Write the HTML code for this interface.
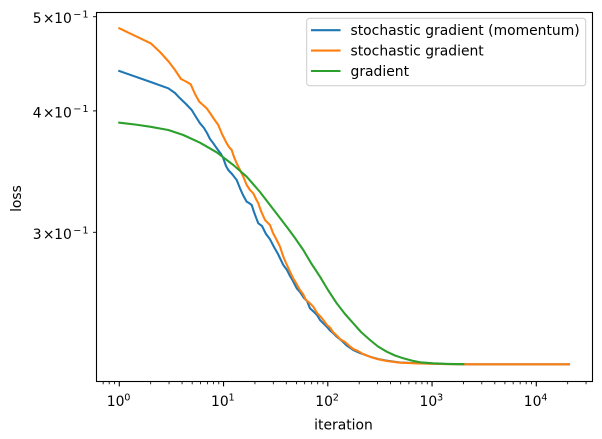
<!DOCTYPE html>
<html>
<head>
<meta charset="utf-8">
<style>
  html, body { margin: 0; padding: 0; background: #ffffff; }
  svg { display: block; }
  text { font-family: "DejaVu Sans", "Liberation Sans", sans-serif; fill: #000; }
</style>
</head>
<body>
<svg width="602" height="439" viewBox="0 0 602 439" xmlns="http://www.w3.org/2000/svg">
  <rect x="0" y="0" width="602" height="439" fill="#ffffff"/>

  <!-- series -->
  <g fill="none" stroke-width="2.08" stroke-linejoin="round" stroke-linecap="square">
    <!-- blue: stochastic gradient (momentum) -->
    <polyline stroke="#1f77b4" points="
      119.3,71 150.7,82 168.3,88.3 175,93 180,98.3 186,104 191.7,110 196,117 200,123.3 204,128
      207,133 210,139 213.3,143.3 218,150 221,154 223.3,158.3 226,166 228.3,170 232,174 236.7,180
      240,188.3 243,195 246.7,201.7 249,203 251.7,205 254,212 256.7,219.3 258.3,223.3 262,226 266,234
      270,239.3 274,247 278,254 283.3,265 287,270 290,276 293,281 296.7,288.3 300,292 304,298
      307,301 310,308.3 314,312 317,315 320,320 323.3,323.3 327,327 330,330.5 333,333 336.7,336.7
      341,340 346.7,345.5 353.3,350 360,353 370,356.7 378,359 386.7,360.7 400,362.5 420,363.3
      445,364 470,364.3 569,364.3"/>
    <!-- orange: stochastic gradient -->
    <polyline stroke="#ff7f0e" points="
      119.3,28.3 150.7,43.3 160,52 169,62 175,70 181,79 186,81.5 190.7,84.3 195,94 199.3,101.7
      203,105 206.7,108.3 210,113 214,119 218.3,125 222,134 226.7,143.3 229,147 231.7,150 234,157
      236.7,163.3 240,170 243,176 246.7,185 250,190 253.3,193.3 256,199 258.3,203.3 261,211 265,220
      268,223 270,225 273,233 276.7,240 280,246.7 283.3,256.7 286,263 290,271.7 293,278 296,283
      300,290 303,294 306,300 310,303.3 313.3,306.7 317,313 320,316 323.3,320 327,325 330,327.5
      333,332 336.7,335.5 340,339 345,342 350,346.5 353.3,349 358,351 363,354 370,356.7 377,359
      386.7,361 400,362.7 420,363.5 445,364.1 470,364.3 569,364.3"/>
    <!-- green: gradient -->
    <polyline stroke="#2ca02c" points="
      119.3,122.7 135,124.5 150,126.7 168.3,130 183.3,135 200,142.7 216.7,152.3 233.3,165 246.7,176.7
      260,192 270,205 280,218 286.7,226.7 295,238 303.3,250 311,263 320,276.7 328,290 336.7,303.3
      345,314 353.3,323.3 361,332 370,340 378,346.5 386.7,351.7 395,355.5 403.3,358.3 412,360.6
      420,362.3 433,363.3 448,363.9 463.3,364.2"/>
  </g>

  <!-- axes frame -->
  <rect x="96.5" y="12.5" width="496" height="369" fill="none" stroke="#000" stroke-width="1.1"/>

  <!-- x major ticks -->
  <g stroke="#000" stroke-width="1.1">
    <line x1="119.3" y1="381.5" x2="119.3" y2="386.4"/>
    <line x1="223.55" y1="381.5" x2="223.55" y2="386.4"/>
    <line x1="327.8" y1="381.5" x2="327.8" y2="386.4"/>
    <line x1="432.05" y1="381.5" x2="432.05" y2="386.4"/>
    <line x1="536.3" y1="381.5" x2="536.3" y2="386.4"/>
  </g>
  <!-- x minor ticks -->
  <g stroke="#000" stroke-width="0.83">
    <line x1="103.15" y1="381.5" x2="103.15" y2="384.3"/>
    <line x1="109.2" y1="381.5" x2="109.2" y2="384.3"/>
    <line x1="114.5" y1="381.5" x2="114.5" y2="384.3"/>

    <line x1="150.68" y1="381.5" x2="150.68" y2="384.3"/>
    <line x1="169.04" y1="381.5" x2="169.04" y2="384.3"/>
    <line x1="182.06" y1="381.5" x2="182.06" y2="384.3"/>
    <line x1="192.17" y1="381.5" x2="192.17" y2="384.3"/>
    <line x1="200.42" y1="381.5" x2="200.42" y2="384.3"/>
    <line x1="207.4" y1="381.5" x2="207.4" y2="384.3"/>
    <line x1="213.44" y1="381.5" x2="213.44" y2="384.3"/>
    <line x1="218.78" y1="381.5" x2="218.78" y2="384.3"/>

    <line x1="254.93" y1="381.5" x2="254.93" y2="384.3"/>
    <line x1="273.29" y1="381.5" x2="273.29" y2="384.3"/>
    <line x1="286.31" y1="381.5" x2="286.31" y2="384.3"/>
    <line x1="296.42" y1="381.5" x2="296.42" y2="384.3"/>
    <line x1="304.67" y1="381.5" x2="304.67" y2="384.3"/>
    <line x1="311.65" y1="381.5" x2="311.65" y2="384.3"/>
    <line x1="317.69" y1="381.5" x2="317.69" y2="384.3"/>
    <line x1="323.03" y1="381.5" x2="323.03" y2="384.3"/>

    <line x1="359.18" y1="381.5" x2="359.18" y2="384.3"/>
    <line x1="377.54" y1="381.5" x2="377.54" y2="384.3"/>
    <line x1="390.56" y1="381.5" x2="390.56" y2="384.3"/>
    <line x1="400.67" y1="381.5" x2="400.67" y2="384.3"/>
    <line x1="408.92" y1="381.5" x2="408.92" y2="384.3"/>
    <line x1="415.9" y1="381.5" x2="415.9" y2="384.3"/>
    <line x1="421.94" y1="381.5" x2="421.94" y2="384.3"/>
    <line x1="427.28" y1="381.5" x2="427.28" y2="384.3"/>

    <line x1="463.43" y1="381.5" x2="463.43" y2="384.3"/>
    <line x1="481.79" y1="381.5" x2="481.79" y2="384.3"/>
    <line x1="494.81" y1="381.5" x2="494.81" y2="384.3"/>
    <line x1="504.92" y1="381.5" x2="504.92" y2="384.3"/>
    <line x1="513.17" y1="381.5" x2="513.17" y2="384.3"/>
    <line x1="520.15" y1="381.5" x2="520.15" y2="384.3"/>
    <line x1="526.19" y1="381.5" x2="526.19" y2="384.3"/>
    <line x1="531.53" y1="381.5" x2="531.53" y2="384.3"/>

    <line x1="567.68" y1="381.5" x2="567.68" y2="384.3"/>
    <line x1="586.04" y1="381.5" x2="586.04" y2="384.3"/>
  </g>

  <!-- x tick labels -->
  <g font-size="13.9" text-anchor="middle">
    <text x="115.6" y="406">10</text>
    <text x="219.85" y="406">10</text>
    <text x="324.1" y="406">10</text>
    <text x="428.35" y="406">10</text>
    <text x="532.6" y="406">10</text>
  </g>
  <g font-size="9.7" text-anchor="middle">
    <text x="127.3" y="400.5">0</text>
    <text x="231.55" y="400.5">1</text>
    <text x="335.8" y="400.5">2</text>
    <text x="440.05" y="400.5">3</text>
    <text x="544.3" y="400.5">4</text>
  </g>
  <text x="343.5" y="429.5" font-size="13.9" text-anchor="middle">iteration</text>

  <!-- y ticks -->
  <g stroke="#000" stroke-width="0.9">
    <line x1="93" y1="16.7" x2="96.5" y2="16.7"/>
    <line x1="93" y1="110.9" x2="96.5" y2="110.9"/>
    <line x1="93" y1="232.3" x2="96.5" y2="232.3"/>
  </g>
  <!-- y tick labels -->
  <g font-size="13.9" text-anchor="middle">
    <text x="37.2" y="23.2">5</text>
    <text x="48.7" y="23.2">×</text>
    <text x="63" y="23.2">10</text>
    <text x="37.2" y="117.4">4</text>
    <text x="48.7" y="117.4">×</text>
    <text x="63" y="117.4">10</text>
    <text x="37.2" y="238.8">3</text>
    <text x="48.7" y="238.8">×</text>
    <text x="63" y="238.8">10</text>
  </g>
  <g font-size="9.7" text-anchor="middle">
    <text x="77.3" y="17.7">−</text>
    <text x="85.5" y="17.7">1</text>
    <text x="77.3" y="111.9">−</text>
    <text x="85.5" y="111.9">1</text>
    <text x="77.3" y="233.3">−</text>
    <text x="85.5" y="233.3">1</text>
  </g>
  <text x="0" y="0" font-size="13.9" text-anchor="middle" transform="translate(20.8,198.5) rotate(-90)">loss</text>

  <!-- legend -->
  <rect x="306.7" y="18.3" width="279" height="67.4" rx="2.8" ry="2.8" fill="#ffffff" fill-opacity="0.8" stroke="#cccccc" stroke-width="1"/>
  <g stroke-width="2.08" stroke-linecap="square">
    <line x1="312" y1="30.2" x2="339.5" y2="30.2" stroke="#1f77b4"/>
    <line x1="312" y1="50.6" x2="339.5" y2="50.6" stroke="#ff7f0e"/>
    <line x1="312" y1="71" x2="339.5" y2="71" stroke="#2ca02c"/>
  </g>
  <g font-size="13.9">
    <text x="350.5" y="35.2">stochastic gradient (momentum)</text>
    <text x="350.5" y="55.6">stochastic gradient</text>
    <text x="350.5" y="75.9">gradient</text>
  </g>
</svg>
</body>
</html>
